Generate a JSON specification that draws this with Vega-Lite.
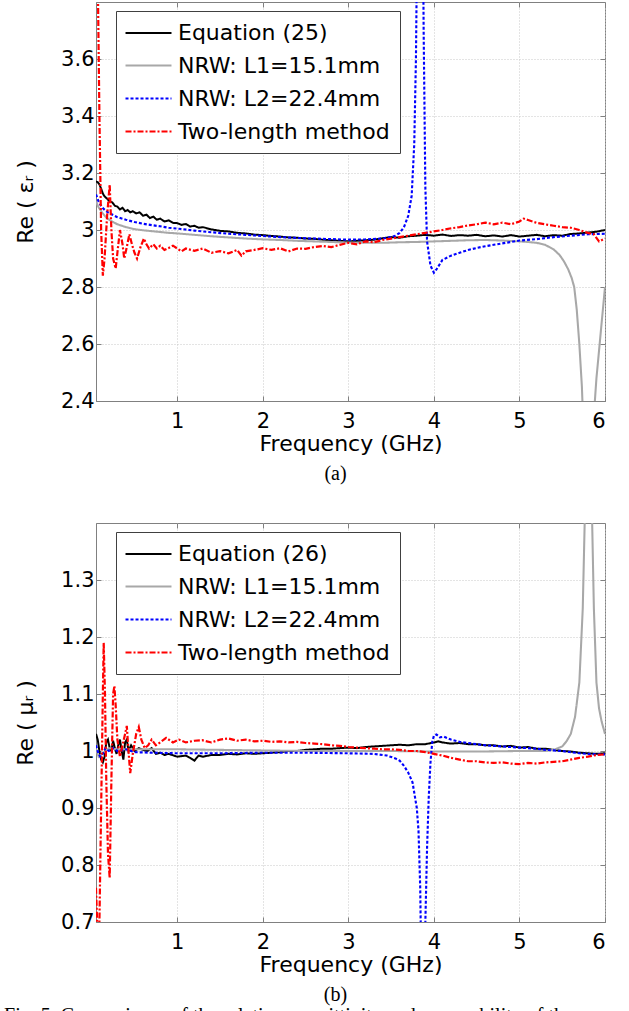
{
"$schema": "https://vega.github.io/schema/vega-lite/v6.json",
"background": "white",
"padding": {"left": 4, "top": 1, "right": 5, "bottom": 0},
"config": {
  "font": "DejaVu Sans",
  "view": {"stroke": "#808080", "strokeWidth": 1},
  "axis": {"labelFont": "DejaVu Sans", "labelFontSize": 21, "labelColor": "#000000", "titleFont": "DejaVu Sans", "titleFontSize": 22, "titleFontWeight": "normal", "titleColor": "#000000", "domainColor": "#808080", "tickColor": "#808080", "tickSize": -5, "gridColor": "#c8c8c8", "gridDash": [1, 2], "gridWidth": 1},
  "legend": {"orient": "none", "legendX": 20, "legendY": 9, "strokeColor": "#404040", "fillColor": "white", "padding": 10, "labelFont": "DejaVu Sans", "labelFontSize": 22, "labelColor": "#000000", "labelLimit": 400, "symbolType": "M-2.09,0H2.09", "symbolSize": 484, "symbolOffset": 10, "labelOffset": 17, "rowPadding": 9}
},
"datasets": {
"eps": [
{"s":"E","f":0.05,"v":3.17},{"s":"E","f":0.07,"v":3.168},{"s":"E","f":0.09,"v":3.16},{"s":"E","f":0.11,"v":3.145},{"s":"E","f":0.13,"v":3.128},{"s":"E","f":0.15,"v":3.118},{"s":"E","f":0.18,"v":3.11},{"s":"E","f":0.21,"v":3.1},{"s":"E","f":0.24,"v":3.097},{"s":"E","f":0.27,"v":3.085},{"s":"E","f":0.3,"v":3.082},{"s":"E","f":0.33,"v":3.072},{"s":"E","f":0.36,"v":3.078},{"s":"E","f":0.39,"v":3.066},{"s":"E","f":0.42,"v":3.07},{"s":"E","f":0.45,"v":3.062},{"s":"E","f":0.48,"v":3.066},{"s":"E","f":0.52,"v":3.058},{"s":"E","f":0.56,"v":3.062},{"s":"E","f":0.6,"v":3.05},{"s":"E","f":0.64,"v":3.054},{"s":"E","f":0.68,"v":3.042},{"s":"E","f":0.72,"v":3.047},{"s":"E","f":0.76,"v":3.036},{"s":"E","f":0.8,"v":3.04},{"s":"E","f":0.85,"v":3.03},{"s":"E","f":0.9,"v":3.034},{"s":"E","f":0.95,"v":3.025},{"s":"E","f":1.0,"v":3.024},{"s":"E","f":1.05,"v":3.018},{"s":"E","f":1.1,"v":3.021},{"s":"E","f":1.15,"v":3.012},{"s":"E","f":1.2,"v":3.015},{"s":"E","f":1.25,"v":3.008},{"s":"E","f":1.3,"v":3.01},{"s":"E","f":1.4,"v":3.002},{"s":"E","f":1.5,"v":2.997},{"s":"E","f":1.6,"v":2.995},{"s":"E","f":1.7,"v":2.99},{"s":"E","f":1.8,"v":2.988},{"s":"E","f":1.9,"v":2.984},{"s":"E","f":2.0,"v":2.982},{"s":"E","f":2.1,"v":2.979},{"s":"E","f":2.2,"v":2.977},{"s":"E","f":2.3,"v":2.974},{"s":"E","f":2.4,"v":2.973},{"s":"E","f":2.5,"v":2.97},{"s":"E","f":2.6,"v":2.969},{"s":"E","f":2.7,"v":2.966},{"s":"E","f":2.8,"v":2.964},{"s":"E","f":2.9,"v":2.962},{"s":"E","f":3.0,"v":2.96},{"s":"E","f":3.1,"v":2.962},{"s":"E","f":3.2,"v":2.964},{"s":"E","f":3.3,"v":2.966},{"s":"E","f":3.4,"v":2.971},{"s":"E","f":3.5,"v":2.975},{"s":"E","f":3.6,"v":2.973},{"s":"E","f":3.7,"v":2.978},{"s":"E","f":3.8,"v":2.98},{"s":"E","f":3.9,"v":2.983},{"s":"E","f":4.0,"v":2.98},{"s":"E","f":4.1,"v":2.984},{"s":"E","f":4.2,"v":2.979},{"s":"E","f":4.3,"v":2.982},{"s":"E","f":4.4,"v":2.98},{"s":"E","f":4.5,"v":2.983},{"s":"E","f":4.6,"v":2.978},{"s":"E","f":4.7,"v":2.981},{"s":"E","f":4.8,"v":2.977},{"s":"E","f":4.9,"v":2.982},{"s":"E","f":5.0,"v":2.977},{"s":"E","f":5.1,"v":2.98},{"s":"E","f":5.2,"v":2.983},{"s":"E","f":5.3,"v":2.978},{"s":"E","f":5.4,"v":2.982},{"s":"E","f":5.5,"v":2.98},{"s":"E","f":5.6,"v":2.986},{"s":"E","f":5.7,"v":2.988},{"s":"E","f":5.8,"v":2.991},{"s":"E","f":5.9,"v":2.994},{"s":"E","f":6.0,"v":3.0},
{"s":"A","f":0.05,"v":3.1},{"s":"A","f":0.08,"v":3.08},{"s":"A","f":0.12,"v":3.062},{"s":"A","f":0.16,"v":3.047},{"s":"A","f":0.2,"v":3.037},{"s":"A","f":0.25,"v":3.028},{"s":"A","f":0.3,"v":3.02},{"s":"A","f":0.4,"v":3.01},{"s":"A","f":0.5,"v":3.003},{"s":"A","f":0.6,"v":2.999},{"s":"A","f":0.7,"v":2.996},{"s":"A","f":0.8,"v":2.993},{"s":"A","f":0.9,"v":2.99},{"s":"A","f":1.0,"v":2.988},{"s":"A","f":1.2,"v":2.983},{"s":"A","f":1.4,"v":2.978},{"s":"A","f":1.6,"v":2.974},{"s":"A","f":1.8,"v":2.97},{"s":"A","f":2.0,"v":2.967},{"s":"A","f":2.2,"v":2.965},{"s":"A","f":2.4,"v":2.962},{"s":"A","f":2.6,"v":2.96},{"s":"A","f":2.8,"v":2.958},{"s":"A","f":3.0,"v":2.956},{"s":"A","f":3.2,"v":2.955},{"s":"A","f":3.4,"v":2.955},{"s":"A","f":3.6,"v":2.957},{"s":"A","f":3.8,"v":2.958},{"s":"A","f":4.0,"v":2.96},{"s":"A","f":4.2,"v":2.962},{"s":"A","f":4.4,"v":2.964},{"s":"A","f":4.6,"v":2.965},{"s":"A","f":4.8,"v":2.963},{"s":"A","f":5.0,"v":2.96},{"s":"A","f":5.1,"v":2.958},{"s":"A","f":5.2,"v":2.955},{"s":"A","f":5.3,"v":2.948},{"s":"A","f":5.4,"v":2.932},{"s":"A","f":5.47,"v":2.912},{"s":"A","f":5.52,"v":2.89},{"s":"A","f":5.57,"v":2.862},{"s":"A","f":5.61,"v":2.832},{"s":"A","f":5.64,"v":2.8},{"s":"A","f":5.67,"v":2.72},{"s":"A","f":5.7,"v":2.6},{"s":"A","f":5.73,"v":2.45},{"s":"A","f":5.76,"v":2.2},{"s":"A","f":5.8,"v":1.9},{"s":"A","f":5.84,"v":2.05},{"s":"A","f":5.87,"v":2.35},{"s":"A","f":5.9,"v":2.48},{"s":"A","f":5.95,"v":2.64},{"s":"A","f":6.0,"v":2.8},
{"s":"B","f":0.05,"v":3.125},{"s":"B","f":0.08,"v":3.1},{"s":"B","f":0.12,"v":3.08},{"s":"B","f":0.16,"v":3.068},{"s":"B","f":0.2,"v":3.06},{"s":"B","f":0.3,"v":3.045},{"s":"B","f":0.4,"v":3.036},{"s":"B","f":0.5,"v":3.028},{"s":"B","f":0.6,"v":3.022},{"s":"B","f":0.7,"v":3.017},{"s":"B","f":0.8,"v":3.013},{"s":"B","f":0.9,"v":3.008},{"s":"B","f":1.0,"v":3.005},{"s":"B","f":1.2,"v":2.998},{"s":"B","f":1.4,"v":2.992},{"s":"B","f":1.6,"v":2.987},{"s":"B","f":1.8,"v":2.983},{"s":"B","f":2.0,"v":2.979},{"s":"B","f":2.2,"v":2.975},{"s":"B","f":2.4,"v":2.972},{"s":"B","f":2.6,"v":2.97},{"s":"B","f":2.8,"v":2.968},{"s":"B","f":3.0,"v":2.966},{"s":"B","f":3.2,"v":2.967},{"s":"B","f":3.4,"v":2.97},{"s":"B","f":3.5,"v":2.975},{"s":"B","f":3.55,"v":2.98},{"s":"B","f":3.6,"v":2.99},{"s":"B","f":3.65,"v":3.01},{"s":"B","f":3.7,"v":3.05},{"s":"B","f":3.74,"v":3.12},{"s":"B","f":3.77,"v":3.3},{"s":"B","f":3.79,"v":3.6},{"s":"B","f":3.81,"v":4.2},{"s":"B","f":3.84,"v":5.0},{"s":"B","f":3.86,"v":4.6},{"s":"B","f":3.88,"v":3.7},{"s":"B","f":3.9,"v":3.15},{"s":"B","f":3.92,"v":2.96},{"s":"B","f":3.96,"v":2.875},{"s":"B","f":4.0,"v":2.85},{"s":"B","f":4.03,"v":2.862},{"s":"B","f":4.1,"v":2.895},{"s":"B","f":4.2,"v":2.91},{"s":"B","f":4.3,"v":2.92},{"s":"B","f":4.4,"v":2.93},{"s":"B","f":4.5,"v":2.937},{"s":"B","f":4.6,"v":2.943},{"s":"B","f":4.7,"v":2.948},{"s":"B","f":4.8,"v":2.953},{"s":"B","f":4.9,"v":2.958},{"s":"B","f":5.0,"v":2.963},{"s":"B","f":5.2,"v":2.968},{"s":"B","f":5.4,"v":2.975},{"s":"B","f":5.6,"v":2.98},{"s":"B","f":5.8,"v":2.985},{"s":"B","f":6.0,"v":2.987},
{"s":"T","f":0.05,"v":4.2},{"s":"T","f":0.07,"v":3.9},{"s":"T","f":0.09,"v":3.4},{"s":"T","f":0.11,"v":3.0},{"s":"T","f":0.13,"v":2.84},{"s":"T","f":0.15,"v":2.9},{"s":"T","f":0.18,"v":3.05},{"s":"T","f":0.21,"v":3.16},{"s":"T","f":0.23,"v":3.0},{"s":"T","f":0.25,"v":2.9},{"s":"T","f":0.28,"v":2.865},{"s":"T","f":0.3,"v":2.92},{"s":"T","f":0.33,"v":3.0},{"s":"T","f":0.36,"v":2.95},{"s":"T","f":0.38,"v":2.9},{"s":"T","f":0.41,"v":2.94},{"s":"T","f":0.44,"v":2.985},{"s":"T","f":0.47,"v":2.95},{"s":"T","f":0.5,"v":2.92},{"s":"T","f":0.53,"v":2.9},{"s":"T","f":0.57,"v":2.94},{"s":"T","f":0.61,"v":2.97},{"s":"T","f":0.64,"v":2.95},{"s":"T","f":0.67,"v":2.935},{"s":"T","f":0.72,"v":2.95},{"s":"T","f":0.76,"v":2.935},{"s":"T","f":0.8,"v":2.945},{"s":"T","f":0.85,"v":2.93},{"s":"T","f":0.9,"v":2.937},{"s":"T","f":0.95,"v":2.945},{"s":"T","f":1.0,"v":2.935},{"s":"T","f":1.05,"v":2.925},{"s":"T","f":1.1,"v":2.935},{"s":"T","f":1.2,"v":2.927},{"s":"T","f":1.3,"v":2.935},{"s":"T","f":1.4,"v":2.92},{"s":"T","f":1.5,"v":2.926},{"s":"T","f":1.6,"v":2.918},{"s":"T","f":1.7,"v":2.93},{"s":"T","f":1.75,"v":2.91},{"s":"T","f":1.8,"v":2.925},{"s":"T","f":1.9,"v":2.93},{"s":"T","f":2.0,"v":2.936},{"s":"T","f":2.1,"v":2.93},{"s":"T","f":2.2,"v":2.936},{"s":"T","f":2.3,"v":2.925},{"s":"T","f":2.4,"v":2.935},{"s":"T","f":2.5,"v":2.934},{"s":"T","f":2.6,"v":2.94},{"s":"T","f":2.7,"v":2.944},{"s":"T","f":2.8,"v":2.94},{"s":"T","f":2.9,"v":2.948},{"s":"T","f":3.0,"v":2.955},{"s":"T","f":3.1,"v":2.95},{"s":"T","f":3.2,"v":2.96},{"s":"T","f":3.3,"v":2.957},{"s":"T","f":3.4,"v":2.965},{"s":"T","f":3.5,"v":2.97},{"s":"T","f":3.6,"v":2.975},{"s":"T","f":3.7,"v":2.98},{"s":"T","f":3.8,"v":2.985},{"s":"T","f":3.9,"v":2.99},{"s":"T","f":4.0,"v":2.995},{"s":"T","f":4.1,"v":3.0},{"s":"T","f":4.2,"v":3.006},{"s":"T","f":4.3,"v":3.01},{"s":"T","f":4.4,"v":3.016},{"s":"T","f":4.5,"v":3.02},{"s":"T","f":4.6,"v":3.026},{"s":"T","f":4.7,"v":3.02},{"s":"T","f":4.8,"v":3.026},{"s":"T","f":4.9,"v":3.02},{"s":"T","f":5.0,"v":3.03},{"s":"T","f":5.05,"v":3.04},{"s":"T","f":5.1,"v":3.035},{"s":"T","f":5.2,"v":3.025},{"s":"T","f":5.3,"v":3.02},{"s":"T","f":5.4,"v":3.015},{"s":"T","f":5.5,"v":3.01},{"s":"T","f":5.6,"v":3.008},{"s":"T","f":5.7,"v":3.0},{"s":"T","f":5.8,"v":2.99},{"s":"T","f":5.87,"v":2.985},{"s":"T","f":5.93,"v":2.96},{"s":"T","f":6.0,"v":2.97}
],
"mu": [
{"s":"E","f":0.05,"v":1.03},{"s":"E","f":0.07,"v":1.02},{"s":"E","f":0.09,"v":1.0},{"s":"E","f":0.11,"v":0.985},{"s":"E","f":0.13,"v":0.98},{"s":"E","f":0.15,"v":0.99},{"s":"E","f":0.17,"v":1.015},{"s":"E","f":0.19,"v":1.02},{"s":"E","f":0.21,"v":1.005},{"s":"E","f":0.23,"v":1.0},{"s":"E","f":0.25,"v":1.018},{"s":"E","f":0.27,"v":1.005},{"s":"E","f":0.29,"v":0.995},{"s":"E","f":0.31,"v":1.01},{"s":"E","f":0.33,"v":1.02},{"s":"E","f":0.35,"v":1.0},{"s":"E","f":0.37,"v":0.985},{"s":"E","f":0.39,"v":1.015},{"s":"E","f":0.41,"v":1.02},{"s":"E","f":0.43,"v":1.0},{"s":"E","f":0.46,"v":1.01},{"s":"E","f":0.5,"v":1.0},{"s":"E","f":0.55,"v":1.005},{"s":"E","f":0.6,"v":1.002},{"s":"E","f":0.65,"v":1.0},{"s":"E","f":0.7,"v":1.005},{"s":"E","f":0.75,"v":0.995},{"s":"E","f":0.8,"v":0.997},{"s":"E","f":0.85,"v":0.993},{"s":"E","f":0.9,"v":0.995},{"s":"E","f":1.0,"v":0.99},{"s":"E","f":1.1,"v":0.992},{"s":"E","f":1.15,"v":0.988},{"s":"E","f":1.2,"v":0.983},{"s":"E","f":1.25,"v":0.992},{"s":"E","f":1.3,"v":0.99},{"s":"E","f":1.4,"v":0.993},{"s":"E","f":1.5,"v":0.993},{"s":"E","f":1.6,"v":0.995},{"s":"E","f":1.7,"v":0.994},{"s":"E","f":1.8,"v":0.996},{"s":"E","f":1.9,"v":0.995},{"s":"E","f":2.0,"v":0.996},{"s":"E","f":2.1,"v":0.997},{"s":"E","f":2.2,"v":0.998},{"s":"E","f":2.3,"v":1.0},{"s":"E","f":2.4,"v":1.0},{"s":"E","f":2.5,"v":1.002},{"s":"E","f":2.6,"v":1.003},{"s":"E","f":2.7,"v":1.004},{"s":"E","f":2.8,"v":1.004},{"s":"E","f":2.9,"v":1.005},{"s":"E","f":3.0,"v":1.006},{"s":"E","f":3.1,"v":1.005},{"s":"E","f":3.2,"v":1.007},{"s":"E","f":3.3,"v":1.008},{"s":"E","f":3.4,"v":1.009},{"s":"E","f":3.5,"v":1.01},{"s":"E","f":3.6,"v":1.011},{"s":"E","f":3.7,"v":1.01},{"s":"E","f":3.8,"v":1.012},{"s":"E","f":3.9,"v":1.012},{"s":"E","f":4.0,"v":1.015},{"s":"E","f":4.05,"v":1.017},{"s":"E","f":4.1,"v":1.015},{"s":"E","f":4.2,"v":1.013},{"s":"E","f":4.3,"v":1.014},{"s":"E","f":4.4,"v":1.012},{"s":"E","f":4.5,"v":1.012},{"s":"E","f":4.6,"v":1.01},{"s":"E","f":4.7,"v":1.01},{"s":"E","f":4.8,"v":1.008},{"s":"E","f":4.9,"v":1.009},{"s":"E","f":5.0,"v":1.006},{"s":"E","f":5.1,"v":1.007},{"s":"E","f":5.2,"v":1.004},{"s":"E","f":5.3,"v":1.004},{"s":"E","f":5.4,"v":1.002},{"s":"E","f":5.5,"v":1.0},{"s":"E","f":5.6,"v":0.999},{"s":"E","f":5.7,"v":0.997},{"s":"E","f":5.8,"v":0.996},{"s":"E","f":5.9,"v":0.995},{"s":"E","f":6.0,"v":0.996},
{"s":"A","f":0.05,"v":1.005},{"s":"A","f":0.08,"v":0.99},{"s":"A","f":0.12,"v":0.995},{"s":"A","f":0.16,"v":1.0},{"s":"A","f":0.2,"v":1.005},{"s":"A","f":0.3,"v":1.003},{"s":"A","f":0.5,"v":1.003},{"s":"A","f":1.0,"v":1.003},{"s":"A","f":1.5,"v":1.002},{"s":"A","f":2.0,"v":1.001},{"s":"A","f":2.5,"v":1.0},{"s":"A","f":3.0,"v":1.0},{"s":"A","f":3.5,"v":1.0},{"s":"A","f":4.0,"v":0.999},{"s":"A","f":4.5,"v":0.999},{"s":"A","f":5.0,"v":1.0},{"s":"A","f":5.3,"v":1.0},{"s":"A","f":5.4,"v":1.002},{"s":"A","f":5.5,"v":1.008},{"s":"A","f":5.55,"v":1.017},{"s":"A","f":5.6,"v":1.03},{"s":"A","f":5.65,"v":1.06},{"s":"A","f":5.7,"v":1.12},{"s":"A","f":5.74,"v":1.25},{"s":"A","f":5.77,"v":1.45},{"s":"A","f":5.8,"v":1.65},{"s":"A","f":5.83,"v":1.6},{"s":"A","f":5.85,"v":1.4},{"s":"A","f":5.87,"v":1.25},{"s":"A","f":5.9,"v":1.12},{"s":"A","f":5.93,"v":1.075},{"s":"A","f":5.96,"v":1.052},{"s":"A","f":6.0,"v":1.03},
{"s":"B","f":0.05,"v":1.01},{"s":"B","f":0.08,"v":0.995},{"s":"B","f":0.1,"v":0.99},{"s":"B","f":0.13,"v":0.995},{"s":"B","f":0.16,"v":1.005},{"s":"B","f":0.2,"v":1.0},{"s":"B","f":0.25,"v":1.005},{"s":"B","f":0.3,"v":1.0},{"s":"B","f":0.4,"v":1.003},{"s":"B","f":0.5,"v":0.998},{"s":"B","f":0.7,"v":0.997},{"s":"B","f":1.0,"v":0.996},{"s":"B","f":1.5,"v":0.996},{"s":"B","f":2.0,"v":0.997},{"s":"B","f":2.5,"v":0.997},{"s":"B","f":3.0,"v":0.996},{"s":"B","f":3.3,"v":0.995},{"s":"B","f":3.45,"v":0.992},{"s":"B","f":3.55,"v":0.987},{"s":"B","f":3.6,"v":0.983},{"s":"B","f":3.65,"v":0.974},{"s":"B","f":3.7,"v":0.962},{"s":"B","f":3.75,"v":0.945},{"s":"B","f":3.8,"v":0.9},{"s":"B","f":3.82,"v":0.86},{"s":"B","f":3.84,"v":0.76},{"s":"B","f":3.85,"v":0.65},{"s":"B","f":3.87,"v":0.45},{"s":"B","f":3.89,"v":0.6},{"s":"B","f":3.9,"v":0.7},{"s":"B","f":3.92,"v":0.83},{"s":"B","f":3.94,"v":0.92},{"s":"B","f":3.96,"v":0.98},{"s":"B","f":3.98,"v":1.015},{"s":"B","f":4.0,"v":1.027},{"s":"B","f":4.03,"v":1.029},{"s":"B","f":4.07,"v":1.024},{"s":"B","f":4.12,"v":1.025},{"s":"B","f":4.2,"v":1.02},{"s":"B","f":4.3,"v":1.016},{"s":"B","f":4.4,"v":1.014},{"s":"B","f":4.5,"v":1.012},{"s":"B","f":4.6,"v":1.01},{"s":"B","f":4.7,"v":1.009},{"s":"B","f":4.8,"v":1.008},{"s":"B","f":4.9,"v":1.007},{"s":"B","f":5.0,"v":1.006},{"s":"B","f":5.1,"v":1.005},{"s":"B","f":5.2,"v":1.004},{"s":"B","f":5.3,"v":1.002},{"s":"B","f":5.4,"v":1.001},{"s":"B","f":5.5,"v":1.0},{"s":"B","f":5.6,"v":0.998},{"s":"B","f":5.7,"v":0.996},{"s":"B","f":5.8,"v":0.995},{"s":"B","f":5.9,"v":0.994},{"s":"B","f":6.0,"v":0.994},
{"s":"T","f":0.05,"v":0.76},{"s":"T","f":0.07,"v":0.67},{"s":"T","f":0.09,"v":0.7},{"s":"T","f":0.11,"v":0.9},{"s":"T","f":0.13,"v":1.1},{"s":"T","f":0.14,"v":1.19},{"s":"T","f":0.155,"v":1.1},{"s":"T","f":0.17,"v":0.95},{"s":"T","f":0.19,"v":0.82},{"s":"T","f":0.21,"v":0.777},{"s":"T","f":0.23,"v":0.95},{"s":"T","f":0.25,"v":1.1},{"s":"T","f":0.265,"v":1.114},{"s":"T","f":0.28,"v":1.08},{"s":"T","f":0.3,"v":1.02},{"s":"T","f":0.33,"v":0.99},{"s":"T","f":0.36,"v":1.01},{"s":"T","f":0.39,"v":1.03},{"s":"T","f":0.41,"v":1.044},{"s":"T","f":0.43,"v":1.0},{"s":"T","f":0.45,"v":0.961},{"s":"T","f":0.48,"v":0.995},{"s":"T","f":0.52,"v":1.03},{"s":"T","f":0.55,"v":1.042},{"s":"T","f":0.58,"v":1.02},{"s":"T","f":0.62,"v":1.005},{"s":"T","f":0.66,"v":1.01},{"s":"T","f":0.7,"v":1.02},{"s":"T","f":0.75,"v":1.01},{"s":"T","f":0.8,"v":1.015},{"s":"T","f":0.87,"v":1.023},{"s":"T","f":0.95,"v":1.015},{"s":"T","f":1.02,"v":1.02},{"s":"T","f":1.1,"v":1.015},{"s":"T","f":1.2,"v":1.018},{"s":"T","f":1.29,"v":1.019},{"s":"T","f":1.4,"v":1.015},{"s":"T","f":1.5,"v":1.02},{"s":"T","f":1.6,"v":1.022},{"s":"T","f":1.7,"v":1.018},{"s":"T","f":1.8,"v":1.02},{"s":"T","f":1.9,"v":1.017},{"s":"T","f":2.0,"v":1.018},{"s":"T","f":2.1,"v":1.016},{"s":"T","f":2.2,"v":1.017},{"s":"T","f":2.3,"v":1.015},{"s":"T","f":2.4,"v":1.016},{"s":"T","f":2.5,"v":1.014},{"s":"T","f":2.6,"v":1.013},{"s":"T","f":2.7,"v":1.012},{"s":"T","f":2.8,"v":1.01},{"s":"T","f":2.9,"v":1.009},{"s":"T","f":3.0,"v":1.007},{"s":"T","f":3.1,"v":1.006},{"s":"T","f":3.2,"v":1.005},{"s":"T","f":3.3,"v":1.004},{"s":"T","f":3.4,"v":1.003},{"s":"T","f":3.5,"v":1.003},{"s":"T","f":3.6,"v":1.002},{"s":"T","f":3.7,"v":1.0},{"s":"T","f":3.8,"v":1.0},{"s":"T","f":3.9,"v":0.998},{"s":"T","f":4.0,"v":0.995},{"s":"T","f":4.1,"v":0.992},{"s":"T","f":4.2,"v":0.988},{"s":"T","f":4.3,"v":0.985},{"s":"T","f":4.4,"v":0.982},{"s":"T","f":4.5,"v":0.982},{"s":"T","f":4.6,"v":0.98},{"s":"T","f":4.7,"v":0.979},{"s":"T","f":4.8,"v":0.98},{"s":"T","f":4.9,"v":0.978},{"s":"T","f":5.0,"v":0.977},{"s":"T","f":5.1,"v":0.979},{"s":"T","f":5.2,"v":0.978},{"s":"T","f":5.3,"v":0.98},{"s":"T","f":5.4,"v":0.981},{"s":"T","f":5.5,"v":0.982},{"s":"T","f":5.6,"v":0.985},{"s":"T","f":5.7,"v":0.988},{"s":"T","f":5.8,"v":0.99},{"s":"T","f":5.9,"v":0.993},{"s":"T","f":6.0,"v":0.994}
]
},
"vconcat": [
{
  "width": 509, "height": 399,
  "data": {"name": "eps"},
  "title": {"text": "(a)", "orient": "bottom", "font": "Liberation Serif", "fontSize": 20, "fontWeight": "normal", "color": "#000000", "dx": -15, "offset": 10},
  "layer": [
    {"mark": {"type": "line", "clip": true},
     "encoding": {
       "x": {"field": "f", "type": "quantitative", "scale": {"domain": [0.05, 6], "nice": false, "zero": false}, "axis": {"values": [1,2,3,4,5,6], "format": "d", "title": "Frequency (GHz)", "labelPadding": 14, "titlePadding": 2, "grid": true}},
       "y": {"field": "v", "type": "quantitative", "scale": {"domain": [2.4, 3.8], "nice": false, "zero": false}, "axis": {"values": [2.4,2.6,2.8,3,3.2,3.4,3.6], "format": "~g", "title": "Re ( εᵣ )", "labelPadding": 7, "titlePadding": 23, "grid": true}},
       "color": {"field": "s", "type": "nominal", "scale": {"domain": ["E","A","B","T"], "range": ["#000000","#a8a8a8","#0000ff","#ff0000"]}, "legend": {"title": null, "labelExpr": "datum.value == 'E' ? 'Equation (25)' : datum.value == 'A' ? 'NRW: L1=15.1mm' : datum.value == 'B' ? 'NRW: L2=22.4mm' : 'Two-length method'"}},
       "strokeDash": {"field": "s", "type": "nominal", "scale": {"domain": ["E","A","B","T"], "range": [[1,0],[1,0],[3,2],[6,2,2,2]]}, "legend": {"title": null, "labelExpr": "datum.value == 'E' ? 'Equation (25)' : datum.value == 'A' ? 'NRW: L1=15.1mm' : datum.value == 'B' ? 'NRW: L2=22.4mm' : 'Two-length method'"}},
       "strokeWidth": {"field": "s", "type": "nominal", "scale": {"domain": ["E","A","B","T"], "range": [2,2.2,1.4,2]}, "legend": {"title": null, "labelExpr": "datum.value == 'E' ? 'Equation (25)' : datum.value == 'A' ? 'NRW: L1=15.1mm' : datum.value == 'B' ? 'NRW: L2=22.4mm' : 'Two-length method'"}}
     }},
    {"mark": {"type": "line", "opacity": 0, "clip": true},
     "encoding": {
       "x": {"field": "f", "type": "quantitative", "scale": {"domain": [0.05, 6], "nice": false, "zero": false}, "axis": {"orient": "top", "values": [1,2,3,4,5,6], "labels": false, "title": null, "grid": false, "domain": false}},
       "y": {"field": "v", "type": "quantitative", "scale": {"domain": [2.4, 3.8], "nice": false, "zero": false}, "axis": {"orient": "right", "values": [2.4,2.6,2.8,3,3.2,3.4,3.6], "labels": false, "title": null, "grid": false, "domain": false}},
       "detail": {"field": "s", "type": "nominal"}
     }}
  ],
  "resolve": {"axis": {"x": "independent", "y": "independent"}}
},
{
  "width": 509, "height": 399,
  "data": {"name": "mu"},
  "title": {"text": "(b)", "orient": "bottom", "font": "Liberation Serif", "fontSize": 20, "fontWeight": "normal", "color": "#000000", "dx": -15, "offset": 10},
  "layer": [
    {"mark": {"type": "line", "clip": true},
     "encoding": {
       "x": {"field": "f", "type": "quantitative", "scale": {"domain": [0.05, 6], "nice": false, "zero": false}, "axis": {"values": [1,2,3,4,5,6], "format": "d", "title": "Frequency (GHz)", "labelPadding": 14, "titlePadding": 2, "grid": true}},
       "y": {"field": "v", "type": "quantitative", "scale": {"domain": [0.7, 1.4], "nice": false, "zero": false}, "axis": {"values": [0.7,0.8,0.9,1,1.1,1.2,1.3], "format": "~g", "title": "Re ( μᵣ )", "labelPadding": 7, "titlePadding": 23, "grid": true}},
       "color": {"field": "s", "type": "nominal", "scale": {"domain": ["E","A","B","T"], "range": ["#000000","#a8a8a8","#0000ff","#ff0000"]}, "legend": {"title": null, "labelExpr": "datum.value == 'E' ? 'Equation (26)' : datum.value == 'A' ? 'NRW: L1=15.1mm' : datum.value == 'B' ? 'NRW: L2=22.4mm' : 'Two-length method'"}},
       "strokeDash": {"field": "s", "type": "nominal", "scale": {"domain": ["E","A","B","T"], "range": [[1,0],[1,0],[3,2],[6,2,2,2]]}, "legend": {"title": null, "labelExpr": "datum.value == 'E' ? 'Equation (26)' : datum.value == 'A' ? 'NRW: L1=15.1mm' : datum.value == 'B' ? 'NRW: L2=22.4mm' : 'Two-length method'"}},
       "strokeWidth": {"field": "s", "type": "nominal", "scale": {"domain": ["E","A","B","T"], "range": [2,2.2,1.4,2]}, "legend": {"title": null, "labelExpr": "datum.value == 'E' ? 'Equation (26)' : datum.value == 'A' ? 'NRW: L1=15.1mm' : datum.value == 'B' ? 'NRW: L2=22.4mm' : 'Two-length method'"}}
     }},
    {"mark": {"type": "line", "opacity": 0, "clip": true},
     "encoding": {
       "x": {"field": "f", "type": "quantitative", "scale": {"domain": [0.05, 6], "nice": false, "zero": false}, "axis": {"orient": "top", "values": [1,2,3,4,5,6], "labels": false, "title": null, "grid": false, "domain": false}},
       "y": {"field": "v", "type": "quantitative", "scale": {"domain": [0.7, 1.4], "nice": false, "zero": false}, "axis": {"orient": "right", "values": [0.7,0.8,0.9,1,1.1,1.2,1.3], "labels": false, "title": null, "grid": false, "domain": false}},
       "detail": {"field": "s", "type": "nominal"}
     }}
  ],
  "resolve": {"axis": {"x": "independent", "y": "independent"}}
}
],
"spacing": 37,
"resolve": {"scale": {"color": "independent", "strokeDash": "independent", "strokeWidth": "independent"}, "legend": {"color": "independent", "strokeDash": "independent", "strokeWidth": "independent"}},
"title": {"text": "Fig. 5. Comparisons of the relative permittivity and permeability of the", "orient": "bottom", "anchor": "start", "font": "Liberation Serif", "fontSize": 20, "fontWeight": "normal", "color": "#000000", "offset": 0, "dx": -10}
}
